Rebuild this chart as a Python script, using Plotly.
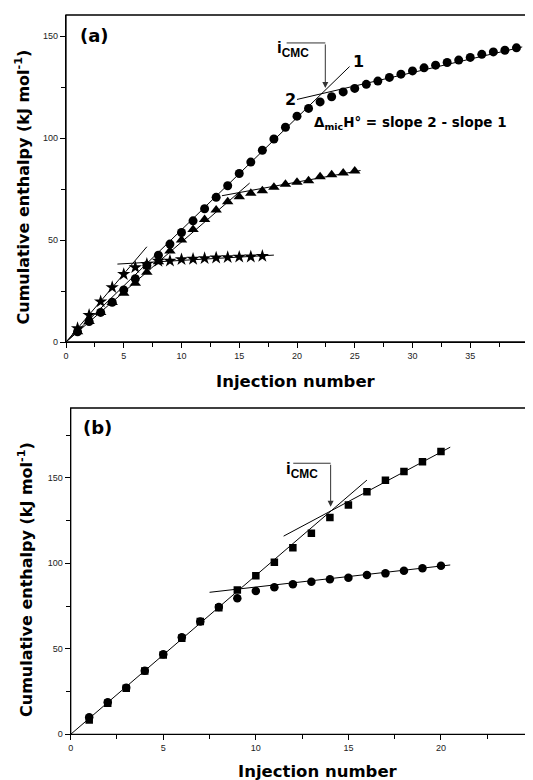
import plotly.graph_objects as go

# ---------------- data: panel (a) ----------------
a_circle_x = list(range(1, 40))
a_circle_y = [5, 10, 14.5, 19.5, 25.5, 31, 37.5, 42.5, 48, 53.7, 59.4, 65.3, 70.9, 76.6,
              82.6, 88.2, 94, 99.5, 105.3, 110.7, 114.5, 117.7, 120.2, 122.6, 124.3, 126.3,
              127.9, 129.7, 131.3, 132.9, 134.4, 135.7, 137, 138.2, 139.5, 141, 142.2, 143, 144.2]
a_tri_x = list(range(1, 26))
a_tri_y = [5, 10, 14.5, 19.4, 23.9, 28.8, 34.2, 39.4, 44.6, 50, 55.2, 60.1, 64.7, 68.8,
           71.2, 72.9, 74.1, 75.8, 77.3, 78.3, 79, 81, 82, 82.8, 83.8]
a_star_x = list(range(1, 18))
a_star_y = [6.7, 13.2, 19.8, 26.8, 33.2, 36.6, 38.2, 39.7, 39.8, 40.5, 40.7, 41, 41.3,
            41.5, 41.7, 41.8, 42.1]

# fitted straight lines: (slope, intercept, x_start, x_end)
a_fit_slope = [5.5, 1.32, 4.9, 1.03, 6.67, 0.325]
a_fit_inter = [0, 92.5, 0, 57.8, 0, 36.75]
a_fit_x0 = [0, 20, 0, 13.5, 0, 4.45]
a_fit_x1 = [24.55, 39.5, 15.9, 25.5, 7.0, 18.0]

# ---------------- data: panel (b) ----------------
b_sq_x = list(range(1, 21))
b_sq_y = [8.4, 18.1, 26.9, 37, 46.4, 56.1, 65.9, 74, 84.4, 92.7, 100.6, 109.1, 117.5,
          126.7, 134.1, 141.9, 148.5, 153.6, 159.4, 165.3]
b_circ_x = list(range(1, 21))
b_circ_y = [9.9, 18.8, 27.2, 37.2, 46.8, 56.8, 66, 74.5, 79.5, 83.8, 86, 87.7, 89.2,
            90.6, 91.6, 93.2, 94.1, 95.7, 97.1, 98.6]

b_fit_slope = [9.29, 5.78, 1.23]
b_fit_inter = [0, 49.4, 73.8]
b_fit_x0 = [0, 11.5, 7.5]
b_fit_x1 = [16.0, 20.5, 20.5]

a_xticks = [0, 5, 10, 15, 20, 25, 30, 35, 40]
a_yticks = [0, 50, 100, 150]
b_xticks = [0, 5, 10, 15, 20, 25]
b_yticks = [0, 50, 100, 150]

# page body has an 8px margin; figure is sized/positioned to compensate
OFF = 8
W, H = 533 - OFF, 780 - OFF


def px(xp):
    return (xp - OFF) / W


def py(yp):
    return (H - (yp - OFF)) / H


fig = go.Figure()


def add_fits(slopes, inters, x0s, x1s, xa, ya):
    for s, b, x0, x1 in zip(slopes, inters, x0s, x1s):
        fig.add_trace(go.Scatter(x=[x0, x1], y=[b + s * x0, b + s * x1], mode="lines",
                                 line=dict(color="black", width=1), xaxis=xa, yaxis=ya,
                                 hoverinfo="skip", showlegend=False))


add_fits(a_fit_slope, a_fit_inter, a_fit_x0, a_fit_x1, "x", "y")
add_fits(b_fit_slope, b_fit_inter, b_fit_x0, b_fit_x1, "x2", "y2")


def add_pts(x, y, sym, size, xa, ya):
    fig.add_trace(go.Scatter(x=x, y=y, mode="markers",
                             marker=dict(symbol=sym, size=size, color="black",
                                         line=dict(width=0)),
                             xaxis=xa, yaxis=ya, showlegend=False))


add_pts(a_circle_x, a_circle_y, "circle", 9, "x", "y")
add_pts(a_tri_x, a_tri_y, "triangle-up", 10, "x", "y")
add_pts(a_star_x, a_star_y, "star", 10, "x", "y")
add_pts(b_sq_x, b_sq_y, "square", 7.5, "x2", "y2")
add_pts(b_circ_x, b_circ_y, "circle", 8.5, "x2", "y2")

tickfont = dict(family="Liberation Sans, Arial", size=9, color="#222")


def axis(domain, rng, ticks, minor_dtick):
    return dict(domain=domain, range=rng, tickvals=ticks, ticks="outside", ticklen=5,
                tickwidth=1, tickcolor="black", showline=True, linecolor="black",
                linewidth=1.3, showgrid=False, zeroline=False, automargin=False,
                tickfont=tickfont,
                minor=dict(dtick=minor_dtick, ticks="outside", ticklen=4,
                           tickcolor="black", tickwidth=1, showgrid=False))


fig.update_layout(
    width=W, height=H, margin=dict(l=0, r=0, t=0, b=0),
    paper_bgcolor="white", plot_bgcolor="white", showlegend=False,
    xaxis=dict(axis([px(66), px(528)], [0, 40], a_xticks, 2.5), anchor="y"),
    yaxis=dict(axis([py(342), py(15)], [0, 160.3], a_yticks, 25), anchor="x"),
    xaxis2=dict(axis([px(70.7), 1.0], [0, 24.97], b_xticks, 2.5), anchor="y2"),
    yaxis2=dict(axis([py(734.3), py(408)], [0, 190.8], b_yticks, 25), anchor="x2"),
)

# frames
for xr, yr in (("x domain", "y domain"), ("x2 domain", "y2 domain")):
    fig.add_shape(type="rect", xref=xr, yref=yr, x0=0, x1=1, y0=0, y1=1,
                  line=dict(color="black", width=1.3), layer="above")

bold = "DejaVu Sans, Verdana"
title_font = dict(family=bold, size=16, color="black")

ann = []
# axis titles
ann.append(dict(text="<b>Cumulative enthalpy (kJ mol<sup>-1</sup>)</b>", xref="paper", yref="paper",
                x=px(23), y=py(187.5), textangle=-90, showarrow=False, font=title_font,
                xanchor="center", yanchor="middle"))
ann.append(dict(text="<b>Cumulative enthalpy (kJ mol<sup>-1</sup>)</b>", xref="paper", yref="paper",
                x=px(25), y=py(580), textangle=-90, showarrow=False, font=title_font,
                xanchor="center", yanchor="middle"))
ann.append(dict(text="<b>Injection number</b>", xref="paper", yref="paper",
                x=px(296), y=py(381), showarrow=False, font=dict(family=bold, size=16.5, color="black"),
                xanchor="center", yanchor="middle"))
ann.append(dict(text="<b>Injection number</b>", xref="paper", yref="paper",
                x=px(318), y=py(771), showarrow=False, font=dict(family=bold, size=16.5, color="black"),
                xanchor="center", yanchor="middle"))
# panel labels
ann.append(dict(text="<b>(a)</b>", xref="paper", yref="paper", x=px(78), y=py(35),
                showarrow=False, font=dict(family=bold, size=18, color="black"),
                xanchor="left", yanchor="middle"))
ann.append(dict(text="<b>(b)</b>", xref="paper", yref="paper", x=px(81), y=py(428),
                showarrow=False, font=dict(family=bold, size=18, color="black"),
                xanchor="left", yanchor="middle"))
# panel (a) texts
ann.append(dict(text="<b>i<sub>CMC</sub></b>", xref="x", yref="y", x=18.1, y=143.5,
                showarrow=False, font=dict(family="Liberation Sans, Arial", size=17, color="black"),
                xanchor="left", yanchor="middle"))
ann.append(dict(text="<b>1</b>", xref="x", yref="y", x=25.3, y=137.3, showarrow=False,
                font=dict(family=bold, size=16, color="black")))
ann.append(dict(text="<b>2</b>", xref="x", yref="y", x=19.4, y=119.1, showarrow=False,
                font=dict(family=bold, size=16, color="black")))
ann.append(dict(text="<b>Δ<sub>mic</sub>H° = slope 2 - slope 1</b>", xref="x", yref="y",
                x=21.3, y=107.3, showarrow=False, xanchor="left", yanchor="middle",
                font=dict(family=bold, size=13.5, color="black")))
# arrows (a)
ann.append(dict(x=22.45, y=124.5, ax=22.45, ay=146.6, xref="x", yref="y", axref="x", ayref="y",
                text="", showarrow=True, arrowhead=2, arrowsize=1.2, arrowwidth=1, arrowcolor="#333"))
# panel (b) texts
ann.append(dict(text="<b>i<sub>CMC</sub></b>", xref="x2", yref="y2", x=11.5, y=154.5,
                showarrow=False, font=dict(family="Liberation Sans, Arial", size=17, color="black"),
                xanchor="left", yanchor="middle"))
ann.append(dict(x=14.04, y=133.1, ax=14.04, ay=158.5, xref="x2", yref="y2", axref="x2", ayref="y2",
                text="", showarrow=True, arrowhead=2, arrowsize=1.2, arrowwidth=1, arrowcolor="#333"))
fig.update_layout(annotations=ann)

fig.add_shape(type="line", xref="x", yref="y", x0=19.1, x1=22.45, y0=146.6, y1=146.6,
              line=dict(color="#333", width=1))
fig.add_shape(type="line", xref="x2", yref="y2", x0=12.02, x1=14.04, y0=158.5, y1=158.5,
              line=dict(color="#333", width=1))

fig.write_html("out.html")
